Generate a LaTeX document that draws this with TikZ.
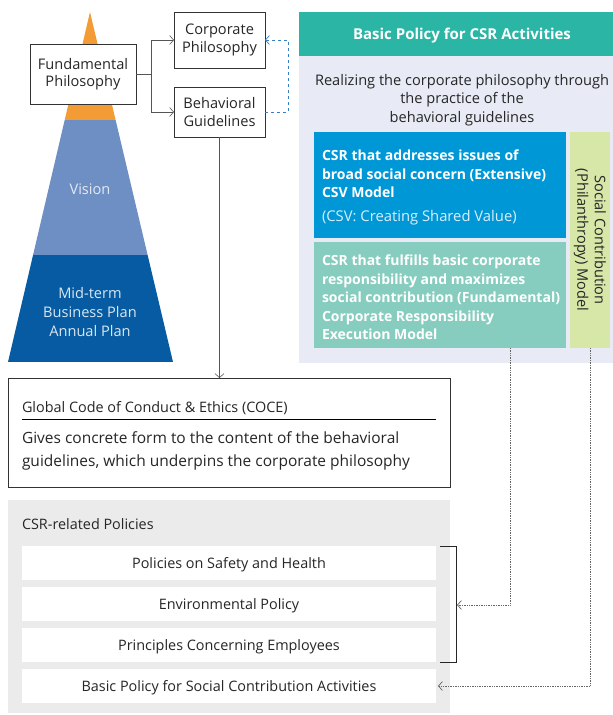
\documentclass[tikz,border=0pt]{standalone}
\usepackage{fontspec}
\setmainfont{Open Sans}
\usepackage{tikz}
\usetikzlibrary{arrows.meta}

\definecolor{peakorange}{HTML}{F39C35}
\definecolor{visionblue}{HTML}{6E8FC4}
\definecolor{planblue}{HTML}{065BA3}
\definecolor{headteal}{HTML}{2BB5A5}
\definecolor{panellav}{HTML}{E8EBF5}
\definecolor{csvblue}{HTML}{0097D7}
\definecolor{fundteal}{HTML}{86CDBF}
\definecolor{philgreen}{HTML}{D6E7A8}
\definecolor{policygray}{HTML}{EAEBEA}
\definecolor{linkblue}{HTML}{3A7FC1}
\definecolor{linegray}{HTML}{555555}

\begin{document}
\begin{tikzpicture}[x=1pt, y=-1pt,
  >={Straight Barb[length=4pt,width=9pt]},
  every node/.style={inner sep=0pt, outer sep=0pt, align=center, text=black!85},
  frame/.style={draw=black!80, fill=white, line width=0.6pt},
  txt/.style={font=\fontsize{14.6}{17.5}\selectfont},
  small/.style={font=\fontsize{14.4}{18}\selectfont},
  bold/.style={font=\fontsize{14}{18.5}\selectfont\bfseries, text=white, align=left},
  policybox/.style={fill=white, minimum width=414pt, minimum height=34pt},
  policytext/.style={small},
  link/.style={->, draw=linegray, line width=0.6pt},
  dotlink/.style={->, draw=black!60, densely dotted, line width=0.7pt}]

\useasboundingbox (0,0) rectangle (613,715);

% pyramid
\begin{scope}
  \clip (90,12) -- (173,362) -- (8,362) -- cycle;
  \fill[peakorange] (0,0) rectangle (180,120);
  \fill[visionblue] (0,120) rectangle (180,255);
  \fill[planblue]   (0,255) rectangle (180,362);
\end{scope}
\node[txt, text=white!80!visionblue] (vision) at (90,189) {Vision};
\node[txt, text=white!85!planblue, font=\fontsize{14.6}{19}\selectfont] (plans) at (90,312) {Mid-term\\Business Plan\\Annual Plan};

% philosophy boxes
\node[frame, txt, minimum width=106pt, minimum height=60pt] (fundphil) at (83,74) {Fundamental\\Philosophy};
\node[frame, txt, minimum width=91pt, minimum height=56pt] (corpphil) at (219.5,40) {Corporate\\Philosophy};
\node[frame, txt, minimum width=91pt, minimum height=50pt] (behav) at (219.5,112) {Behavioral\\Guidelines};

\coordinate (split) at (151,74);
\draw[link] (fundphil.east) -- (split) |- (corpphil.west);
\draw[link] (split) |- (behav.west);
\draw[->, draw=linkblue, dashed, line width=0.7pt] (behav.east) -- ++(23,0) |- (corpphil.east);

% basic policy panel
\fill[panellav] (299,56) rectangle (613,363);
\fill[headteal] (299,12) rectangle (613,56);
\node[font=\fontsize{15}{18}\selectfont\bfseries, text=white] (head) at (462,36) {Basic Policy for CSR Activities};
\node[txt, font=\fontsize{14.6}{18.5}\selectfont] (realize) at (462,100) {Realizing the corporate philosophy through\\the practice of the\\behavioral guidelines};

\node[fill=csvblue, minimum width=252pt, minimum height=106pt] (csvbox) at (440,185) {};
\node[bold, anchor=north west] (csvtext) at (322,150) {CSR that addresses issues of\\broad social concern (Extensive)\\CSV Model};
\node[small, font=\fontsize{14.8}{18}\selectfont, text=white!85!csvblue, anchor=north west] (csvnote) at (322,210) {(CSV: Creating Shared Value)};

\node[fill=fundteal, minimum width=252pt, minimum height=106pt] (fundbox) at (440,295) {};
\node[bold, anchor=north west] (fundtext) at (322,255) {CSR that fulfills basic corporate\\responsibility and maximizes\\social contribution (Fundamental)\\Corporate Responsibility\\Execution Model};

\node[fill=philgreen, minimum width=40pt, minimum height=216pt] (philbox) at (590,240) {};
\node[txt, rotate=-90] (philtext) at (590,240) {Social Contribution\\(Philanthropy) Model};

% code of conduct
\node[frame, minimum width=442pt, minimum height=109pt] (coce) at (229,432.5) {};
\node[small, anchor=west] (cocehead) at (22,408) {Global Code of Conduct \& Ethics (COCE)};
\draw[black, line width=0.7pt] (22,419) -- (436,419);
\node[txt, align=left, anchor=north west, font=\fontsize{15.5}{23}\selectfont] (cocetext) at (22,432) {Gives concrete form to the content of the behavioral\\guidelines, which underpins the corporate philosophy};
\draw[link] (behav.south) -- (coce.north -| behav.south);

% csr-related policies
\fill[policygray] (8,500) rectangle (450,713);
\node[small, anchor=west] (csrhead) at (22,524) {CSR-related Policies};
\node[policybox] (safety) at (229,563) {};
\node[policybox] (envpol) at (229,604) {};
\node[policybox] (employ) at (229,645) {};
\node[policybox] (social) at (229,686) {};
\node[policytext] (safetytext) at ([yshift=-2pt]safety.center) {Policies on Safety and Health};
\node[policytext] (envpoltext) at ([yshift=-2pt]envpol.center) {Environmental Policy};
\node[policytext] (employtext) at ([yshift=-2pt]employ.center) {Principles Concerning Employees};
\node[policytext] (socialtext) at ([yshift=-2pt]social.center) {Basic Policy for Social Contribution Activities};

\draw[black!85, line width=0.7pt] (440,546) -- (456,546) -- (456,662) -- (440,662);
\coordinate (bracket) at (457,605);
\draw[dotlink] ([xshift=70pt]fundbox.south) |- (bracket);
\draw[dotlink] (philbox.south) |- ([xshift=2pt]social.east);

\end{tikzpicture}
\end{document}
